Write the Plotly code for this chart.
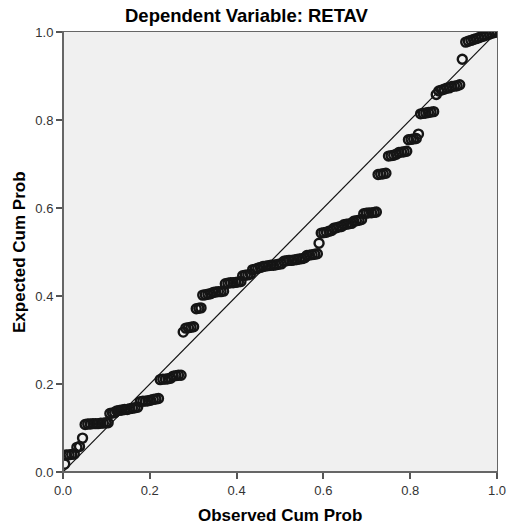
import plotly.graph_objects as go

observed_cum_prob = [
    0.004,
    0.008, 0.014, 0.020, 0.026,
    0.032, 0.038,
    0.045,
    0.051, 0.057, 0.063, 0.069, 0.075, 0.081, 0.087, 0.093, 0.099, 0.104,
    0.108, 0.114, 0.119,
    0.124, 0.130, 0.136, 0.142, 0.148,
    0.154, 0.160, 0.166, 0.172,
    0.178, 0.184, 0.190, 0.196, 0.202,
    0.208, 0.214, 0.220,
    0.224, 0.230, 0.236, 0.242, 0.248,
    0.254, 0.260, 0.266, 0.272,
    0.277,
    0.283, 0.289, 0.295, 0.301,
    0.307, 0.313, 0.318,
    0.322, 0.328, 0.334, 0.340,
    0.346, 0.352, 0.358, 0.364, 0.370,
    0.374, 0.380, 0.386, 0.392, 0.398, 0.404, 0.410,
    0.414, 0.420, 0.426, 0.432,
    0.437, 0.443, 0.449, 0.455,
    0.461, 0.467, 0.473, 0.479, 0.485, 0.491, 0.497, 0.503,
    0.509, 0.515, 0.521, 0.527, 0.533, 0.539, 0.545, 0.551, 0.557,
    0.562, 0.568, 0.574, 0.580, 0.586,
    0.590,
    0.595, 0.601, 0.607, 0.613, 0.619,
    0.624, 0.630, 0.636, 0.642,
    0.647, 0.653, 0.659, 0.665,
    0.670, 0.676, 0.682, 0.688,
    0.693, 0.699, 0.705, 0.711, 0.717, 0.722,
    0.726, 0.732, 0.738, 0.744,
    0.750, 0.756, 0.762, 0.768,
    0.774, 0.780, 0.786, 0.792,
    0.796, 0.802, 0.808, 0.814,
    0.819,
    0.824, 0.830, 0.836, 0.842, 0.848, 0.854,
    0.860,
    0.866, 0.872, 0.878, 0.884, 0.890,
    0.896, 0.902, 0.908, 0.914,
    0.920,
    0.928, 0.934, 0.940, 0.946, 0.952, 0.958, 0.964, 0.970, 0.976, 0.982,
    0.988, 0.994, 1.000,
]
expected_cum_prob = [
    0.018,
    0.039, 0.039, 0.040, 0.041,
    0.056, 0.058,
    0.077,
    0.108, 0.109, 0.109, 0.110, 0.110, 0.110, 0.111, 0.111, 0.112, 0.112,
    0.133, 0.134, 0.135,
    0.139, 0.140, 0.141, 0.142, 0.142,
    0.144, 0.145, 0.146, 0.147,
    0.160, 0.161, 0.161, 0.162, 0.163,
    0.165, 0.166, 0.167,
    0.210, 0.211, 0.211, 0.212, 0.213,
    0.218, 0.219, 0.220, 0.220,
    0.318,
    0.327, 0.328, 0.329, 0.330,
    0.371, 0.372, 0.373,
    0.402, 0.403, 0.404, 0.405,
    0.408, 0.409, 0.410, 0.410, 0.411,
    0.428, 0.429, 0.430, 0.430, 0.431, 0.432, 0.433,
    0.446, 0.447, 0.448, 0.450,
    0.460, 0.461, 0.463, 0.465,
    0.467, 0.468, 0.469, 0.470, 0.470, 0.471, 0.472, 0.473,
    0.479, 0.480, 0.481, 0.481, 0.482, 0.483, 0.484, 0.485, 0.487,
    0.492, 0.493, 0.494, 0.495, 0.496,
    0.520,
    0.543, 0.544, 0.545, 0.547, 0.549,
    0.554, 0.555, 0.557, 0.558,
    0.562, 0.563, 0.564, 0.565,
    0.570, 0.571, 0.572, 0.574,
    0.587, 0.588, 0.589, 0.589, 0.590, 0.591,
    0.676, 0.677, 0.678, 0.679,
    0.718, 0.719, 0.720, 0.722,
    0.726, 0.727, 0.728, 0.729,
    0.755, 0.756, 0.757, 0.758,
    0.768,
    0.814, 0.815, 0.816, 0.817, 0.818, 0.819,
    0.858,
    0.866, 0.868, 0.870, 0.872, 0.873,
    0.876, 0.877, 0.878, 0.880,
    0.938,
    0.977, 0.979, 0.981, 0.983, 0.985, 0.987, 0.989, 0.991, 0.993, 0.995,
    0.997, 0.999, 1.000,
]
reference_line = [0.0, 1.0]
tick_values = [0.0, 0.2, 0.4, 0.6, 0.8, 1.0]
tick_labels = ["0.0", "0.2", "0.4", "0.6", "0.8", "1.0"]

FONT = "Liberation Sans, Arial, sans-serif"

fig = go.Figure()
fig.add_trace(go.Scatter(
    x=reference_line, y=reference_line, mode="lines",
    line=dict(color="#111111", width=1.2), hoverinfo="skip", showlegend=False,
))
fig.add_trace(go.Scatter(
    x=observed_cum_prob, y=expected_cum_prob, mode="markers",
    marker=dict(symbol="circle-open", size=9, color="#151515",
                line=dict(width=2.4, color="#151515")),
    showlegend=False,
))

axis_common = dict(
    range=[0, 1], tickvals=tick_values, ticktext=tick_labels,
    ticks="outside", ticklen=6, tickwidth=1.5, tickcolor="#555555",
    showgrid=False, zeroline=False, showline=True, linecolor="#666666",
    linewidth=1, mirror=True, automargin=False,
    tickfont=dict(family=FONT, size=13, color="#333333"),
)

fig.update_layout(
    template="none",
    width=507, height=529,
    margin=dict(l=63, r=10, t=32, b=57),
    paper_bgcolor="white", plot_bgcolor="#F0F0F0",
    xaxis=axis_common,
    yaxis=axis_common,
    annotations=[
        dict(text="<b>Dependent Variable: RETAV</b>", xref="paper", yref="paper",
             x=(247 - 63) / 434, y=(472 - 15) / 440,
             xanchor="center", yanchor="middle",
             showarrow=False, font=dict(family=FONT, size=18.5, color="#000000")),
        dict(text="<b>Observed Cum Prob</b>", xref="paper", yref="paper",
             x=0.5, y=(472 - 515) / 440, xanchor="center", yanchor="middle",
             showarrow=False, font=dict(family=FONT, size=17, color="#000000")),
        dict(text="<b>Expected Cum Prob</b>", xref="paper", yref="paper",
             x=(19 - 63) / 434, y=0.5, xanchor="center", yanchor="middle",
             textangle=-90, showarrow=False,
             font=dict(family=FONT, size=17, color="#000000")),
    ],
)

# thicker left / bottom axis lines as in the SPSS style
fig.add_shape(type="line", xref="paper", yref="paper", x0=0, x1=0, y0=0, y1=1,
              line=dict(color="#666666", width=2))
fig.add_shape(type="line", xref="paper", yref="paper", x0=0, x1=1, y0=0, y1=0,
              line=dict(color="#666666", width=2))

fig.write_html("out.html")
